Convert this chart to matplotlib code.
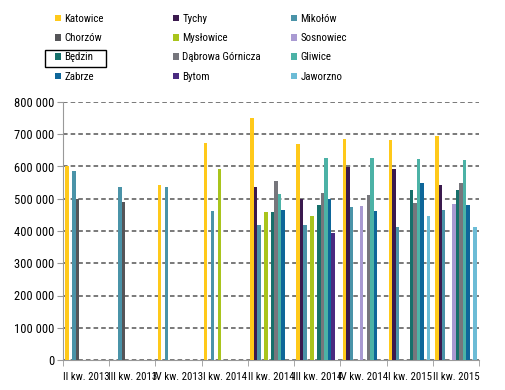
import numpy as np
import matplotlib
matplotlib.use("Agg")
import matplotlib.pyplot as plt
from matplotlib.patches import Rectangle
from matplotlib import font_manager

# ---------------- data (values in PLN) ----------------
quarters = ["II kw. 2013", "III kw. 2013", "IV kw. 2013", "I kw. 2014", "II kw. 2014",
            "III kw. 2014", "IV kw. 2014", "I kw. 2015", "II kw. 2015"]
nan = np.nan

katowice  = [600000, nan, 543000, 672000, 750000, 670000, 686000, 683000, 695000]
tychy     = [nan, nan, nan, nan, 535000, 500000, 599000, 593000, 543000]
mikolow   = [587000, 536000, 536000, 461000, 418000, 418000, 473000, 411000, 464000]
chorzow   = [500000, 491000, nan, nan, nan, nan, nan, nan, nan]
myslowice = [nan, nan, nan, 591000, 458000, 447000, nan, nan, nan]
sosnowiec = [nan, nan, nan, nan, nan, nan, 477000, nan, 484000]
bedzin    = [nan, nan, nan, nan, 458000, 480000, nan, 528000, 528000]
dabrowa   = [nan, nan, nan, nan, 554000, 517000, 513000, 488000, 550000]
gliwice   = [nan, nan, nan, nan, 514000, 627000, 627000, 624000, 620000]
zabrze    = [nan, nan, nan, nan, 466000, 500000, 462000, 550000, 480000]
bytom     = [nan, nan, nan, nan, nan, 395000, nan, nan, nan]
jaworzno  = [nan, nan, nan, nan, nan, nan, nan, 447000, 411000]

cities = ["Katowice", "Tychy", "Mikołów", "Chorzów", "Mysłowice", "Sosnowiec",
          "Będzin", "Dąbrowa Górnicza", "Gliwice", "Zabrze", "Bytom", "Jaworzno"]
series = [katowice, tychy, mikolow, chorzow, myslowice, sosnowiec,
          bedzin, dabrowa, gliwice, zabrze, bytom, jaworzno]
colors = ["#FFC91A", "#3B1A4E", "#4A93A8", "#555558", "#A9C41C", "#A99AD2",
          "#16706B", "#76767C", "#4CB2A6", "#0E6699", "#4A2A80", "#6CBCD6"]

# ---------------- font: narrow if we have one ----------------
installed = {f.name for f in font_manager.fontManager.ttflist}
narrow = [f for f in ["Liberation Sans Narrow", "Roboto Condensed", "Arial Narrow"] if f in installed]
if narrow:
    plt.rcParams["font.family"] = [narrow[0]]
    FS_Y, FS_X, FS_LEG = 9, 7.8, 7.8
else:
    plt.rcParams["font.family"] = ["Liberation Sans"]
    FS_Y, FS_X, FS_LEG = 8, 6.8, 7

fig = plt.figure(figsize=(5.05, 3.90), dpi=100)
ax = fig.add_axes([63 / 505, 1 - 360 / 390, 416 / 505, 258 / 390])

n = len(series)
w = 0.075
x = np.arange(len(quarters))
handles = []
for i, (vals, c) in enumerate(zip(series, colors)):
    offs = (i - (n - 1) / 2) * w
    b = ax.bar(x + offs, vals, width=w, color=c, linewidth=0, zorder=3, label=cities[i])
    handles.append(b)

ax.set_xlim(-0.5, len(quarters) - 0.5)
ax.set_ylim(0, 800000)
ax.set_yticks(np.arange(0, 800001, 100000))
ax.set_yticklabels([f"{v:,}".replace(",", " ") for v in range(0, 800001, 100000)], fontsize=FS_Y)

# category labels centred, ticks between categories
ax.set_xticks(x)
ax.set_xticklabels(quarters, fontsize=FS_X)
ax.tick_params(axis="x", length=0, pad=9)
ax.set_xticks(np.arange(-0.5, len(quarters)), minor=True)
ax.tick_params(axis="x", which="minor", length=4, color="#999999")
ax.tick_params(axis="y", length=4, color="#999999", pad=2)

ax.grid(axis="y", linestyle=(0, (3, 2)), color="#555555", linewidth=1.1, zorder=0)
for s in ["top", "right"]:
    ax.spines[s].set_visible(False)
ax.spines["left"].set_color("#999999")
ax.spines["bottom"].set_color("#999999")

# ---------------- legend: 3 columns, row-wise order ----------------
col_x = [55, 173, 291]
for k in range(3):
    hs = handles[k::3]
    fig.legend(hs, [h.get_label() for h in hs], loc="upper left",
               bbox_to_anchor=(col_x[k] / 505, 1 - 14 / 390), frameon=False,
               fontsize=FS_LEG, handlelength=0.55, handleheight=0.55, handletextpad=0.3,
               borderpad=0, borderaxespad=0, labelspacing=0.85)

fig.add_artist(Rectangle((45 / 505, 1 - 67 / 390), 61 / 505, 17 / 390,
                         transform=fig.transFigure, fill=False, edgecolor="black", linewidth=1))

fig.savefig("out.png", dpi=100)
